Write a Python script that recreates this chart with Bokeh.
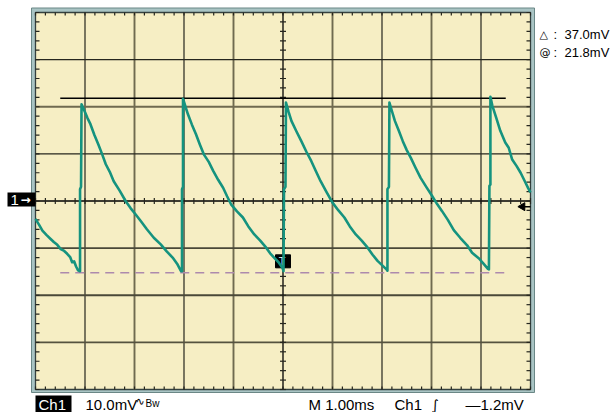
import numpy as np
from bokeh.plotting import figure
from bokeh.models import Range1d
from bokeh.core.properties import value
from bokeh.embed import file_html
from bokeh.resources import INLINE

# ---------------- data (ms, mV) ----------------
trace_t = [-5.00, -4.93, -4.86, -4.78, -4.70, -4.63, -4.56, -4.49, -4.42, -4.36, -4.30, -4.26, -4.22, -4.18, -4.14, -4.10,
           -4.10, -4.08, -4.07,
           -4.01, -3.95, -3.89, -3.81, -3.73, -3.66, -3.58, -3.50, -3.42, -3.30, -3.18, -3.08, -2.98, -2.87, -2.75, -2.61,
           -2.47, -2.35, -2.23, -2.14, -2.06, -2.04,
           -2.04, -2.02, -2.02,
           -1.97, -1.92, -1.84, -1.76, -1.68, -1.60, -1.50, -1.41, -1.31, -1.21, -1.13, -1.05, -0.93, -0.81, -0.70, -0.58,
           -0.46, -0.34, -0.26, -0.18, -0.09, -0.01, 0.01,
           0.02, 0.05, 0.06,
           0.11, 0.17, 0.27, 0.37, 0.47, 0.57, 0.67, 0.76, 0.88, 1.00, 1.12, 1.24, 1.35, 1.47, 1.59, 1.71, 1.81, 1.91,
           2.00, 2.09, 2.11,
           2.11, 2.14, 2.15,
           2.20, 2.26, 2.34, 2.42, 2.50, 2.58, 2.68, 2.78, 2.90, 3.01, 3.11, 3.21, 3.33, 3.45, 3.58, 3.72, 3.82, 3.96,
           4.05, 4.14, 4.16,
           4.17, 4.19, 4.19,
           4.23, 4.31, 4.39, 4.49, 4.56, 4.63, 4.72, 4.80, 4.88, 4.95, 5.00]
trace_v = [-3.8, -5.0, -6.3, -7.2, -8.0, -8.7, -9.3, -10.2, -10.6, -11.2, -11.9, -13.0, -12.8, -13.9, -14.7, -14.9,
           2.5, 3.0, 20.5,
           19.1, 17.6, 16.3, 14.0, 12.0, 10.1, 7.8, 6.2, 4.2, 2.2, 0.0, -1.5, -2.8, -4.3, -6.0, -7.8,
           -9.2, -10.7, -12.0, -13.3, -14.9, -14.9,
           2.5, 3.0, 21.7,
           20.0, 18.4, 16.2, 14.2, 12.0, 9.9, 8.3, 6.4, 4.5, 2.8, 1.0, -0.7, -2.2, -3.5, -5.4, -7.1,
           -8.4, -9.9, -11.1, -12.0, -13.0, -14.2, -14.9,
           2.5, 3.0, 20.9,
           19.0, 17.0, 14.8, 12.7, 10.5, 8.5, 6.2, 4.2, 1.9, -0.35, -2.0, -3.5, -5.4, -7.1, -8.4, -9.9, -11.4, -12.7,
           -13.6, -14.5, -14.8,
           2.5, 3.0, 20.9,
           19.1, 17.0, 14.9, 12.7, 10.8, 9.2, 7.0, 4.9, 2.9, 1.1, -0.6, -2.1, -4.0, -6.2, -7.8, -9.4, -11.0, -12.2,
           -13.3, -14.4, -14.5,
           3.2, 3.5, 22.1,
           20.2, 17.6, 14.9, 12.4, 11.3, 8.8, 7.4, 6.0, 4.3, 2.8, 1.8]

cursor_at_mv = 21.8          # "@" readout, upper cursor
cursor_delta_mv = 37.0       # "delta" readout
cursor_t = [-4.5, 4.5]
trigger_level_mv = -1.2
trigger_pos = (0.0, -12.8)

readout_labels = ["△", "@"]
readout_values = ["37.0mV", "21.8mV"]
status_texts = ["10.0mV", "M 1.00ms", "Ch1", "—1.2mV"]

# ---------------- layout helpers (page px -> data) ----------------
W, H = 611, 412
PX_T = 49.5      # px per ms
PX_V = 4.7125    # px per mV
CX, CY = 282.5, 200.5
def dx(xp):
    return (xp - CX) / PX_T
def dy(yp):
    return (CY - yp) / PX_V

p = figure(width=W, height=H,
           x_range=Range1d(dx(0), dx(W)), y_range=Range1d(dy(H), dy(0)),
           output_backend="svg", toolbar_location=None,
           x_axis_location=None, y_axis_location=None,
           min_border=0)
p.grid.visible = False
p.background_fill_color = "white"
p.border_fill_color = "white"
p.outline_line_color = None

# bezel and screen
p.quad(left=[dx(31)], right=[dx(534)], bottom=[dy(392)], top=[dy(7.5)], fill_color="#a9c4c4",
       line_color="#6a8786", line_width=1)
p.quad(left=[-5], right=[5], bottom=[-40], top=[40], fill_color="#f6eec4", line_color="#34403f", line_width=1.3)

BLACK = "#26261e"
GRAY = "#6f6a50"
vstyle = {-4: BLACK, -3: GRAY, -2: BLACK, -1: GRAY, 1: GRAY, 2: BLACK, 3: GRAY, 4: BLACK}
hstyle = {3: BLACK, 2: GRAY, 1: BLACK, -1: "#4a4838", -2: "#4a4838", -3: "#55523f"}
for k, c in vstyle.items():
    p.segment(x0=[k], y0=[-40], x1=[k], y1=[40], line_color=c, line_width=1.2 if c == BLACK else 1.9)
for k, c in hstyle.items():
    p.segment(x0=[-5], y0=[k * 10], x1=[5], y1=[k * 10], line_color=c, line_width=1.2 if c == BLACK else 1.9)
p.segment(x0=[0], y0=[-40], x1=[0], y1=[40], line_color="black", line_width=1.3)
p.segment(x0=[-5], y0=[0], x1=[5], y1=[0], line_color="black", line_width=1.3)

# minor ticks
tx = np.round(np.arange(-5, 5.001, 0.2), 3)
ty = np.round(np.arange(-40, 40.001, 2.0), 3)
hv = 3 / PX_V
ht = 3 / PX_T
et = 4 / PX_T
x0s, y0s, x1s, y1s = [], [], [], []
for t in tx:
    x0s += [t, t, t]; x1s += [t, t, t]
    y0s += [-hv, 40, -40]; y1s += [hv, 40 - hv, -40 + hv]
for v in ty:
    y0s += [v, v, v]; y1s += [v, v, v]
    x0s += [-ht, -5, 5]; x1s += [ht, -5 + et, 5 - et]
p.segment(x0=x0s, y0=y0s, x1=x1s, y1=y1s, line_color=BLACK, line_width=1.2)

# cursors
p.line(x=cursor_t, y=[cursor_at_mv] * 2, line_color="black", line_width=1.4)
p.line(x=cursor_t, y=[cursor_at_mv - cursor_delta_mv] * 2, line_color="#ad8aad", line_width=1.5, line_dash="9 6")

# trigger position marker
p.rect(x=[trigger_pos[0]], y=[trigger_pos[1]], width=15, height=13, width_units="screen", height_units="screen",
       fill_color="black", line_color="black")
p.text(x=[trigger_pos[0] - 0.02], y=[trigger_pos[1]], text=["T"], text_color="white", text_align="center",
       text_baseline="middle", text_font_size="11px", text_font=value("Liberation Sans"))

# trigger level marker at right edge
p.segment(x0=[5 - 8 / PX_T], y0=[trigger_level_mv], x1=[5], y1=[trigger_level_mv], line_color="black", line_width=1.5)
p.scatter(x=[5 - 8 / PX_T], y=[trigger_level_mv], marker="triangle", size=8, angle=np.pi / 2,
          fill_color="black", line_color="black")

# waveform
p.line(x=trace_t, y=trace_v, line_color="#15937f", line_width=2.6, line_join="round")

# ---------------- texts ----------------
FONT = "Liberation Sans"
def txt(xp, yp, s, size="15px", color="black", font=FONT, style="normal"):
    p.text(x=[dx(xp)], y=[dy(yp)], text=[s], text_color=color, text_font=value(font), text_font_size=size,
           text_baseline="middle", text_align="left", text_font_style=style)

def box(x0, x1, y0, y1):
    p.quad(left=[dx(x0)], right=[dx(x1)], top=[dy(y0)], bottom=[dy(y1)], fill_color="black", line_color=None)

# channel 1 ground marker
box(7, 35, 192, 206)
txt(10, 199.5, "1", size="15px", color="white")
txt(20, 199, "→", size="12px", color="white", font="DejaVu Sans", style="bold")

for i, (lab, val) in enumerate(zip(readout_labels, readout_values)):
    yc = [33.5, 52][i]
    txt(539, yc, lab, size="11px", font="DejaVu Sans")
    txt(553, yc, ":", size="13px")
    txt(564, yc, val, size="13px")

YB = 404
box(35, 71, 395, 412)
txt(38, YB, "Ch1", color="white")
xs_status = [85, 308, 394, 465]
for xp, s in zip(xs_status, status_texts):
    txt(xp, YB, s)
txt(135, YB - 3, "∿", size="11px", font="DejaVu Sans")
txt(145, YB - 1, "Bw", size="10px")
txt(431, YB, "∫", size="14px", font="DejaVu Sans")

open("out.html", "w").write(file_html(p, INLINE))
